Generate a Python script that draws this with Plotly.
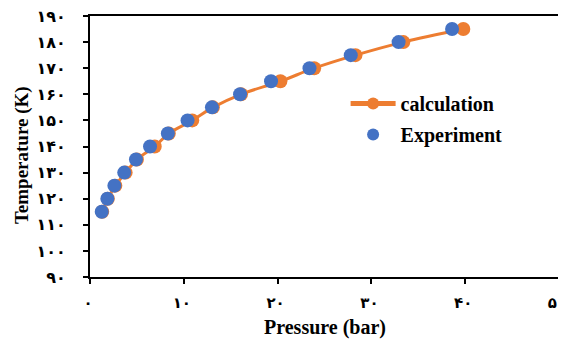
import plotly.graph_objects as go

# Data
exp_pressure = [1.25, 1.85, 2.6, 3.65, 4.9, 6.4, 8.3, 10.4, 13.0, 16.0, 19.3, 23.4, 27.8, 32.9, 38.6]
exp_temp = [115, 120, 125, 130, 135, 140, 145, 150, 155, 160, 165, 170, 175, 180, 185]
calc_pressure = [1.3, 1.9, 2.7, 3.8, 5.0, 6.9, 8.4, 10.9, 13.1, 16.1, 20.3, 23.9, 28.3, 33.4, 39.8]
calc_temp = [115, 120, 125, 130, 135, 140, 145, 150, 155, 160, 165, 170, 175, 180, 185]

fa = "۰۱۲۳۴۵۶۷۸۹"
def fa_num(n):
    return "".join(fa[int(c)] for c in str(n))

x_ticks = [0, 10, 20, 30, 40, 50]
y_ticks = [90, 100, 110, 120, 130, 140, 150, 160, 170, 180, 190]

ORANGE = "#ED7D31"
BLUE = "#4472C4"
FONT = "Liberation Serif, Times New Roman, DejaVu Serif, serif"

fig = go.Figure()
fig.add_trace(go.Scatter(
    x=calc_pressure, y=calc_temp, name="calculation", legendgroup="a",
    mode="lines+markers",
    line=dict(color=ORANGE, width=3, shape="spline"),
    marker=dict(color=ORANGE, size=14),
))
fig.add_trace(go.Scatter(
    x=exp_pressure, y=exp_temp, name="Experiment", legendgroup="b",
    mode="markers",
    marker=dict(color=BLUE, size=14),
))

axis_common = dict(
    showline=True, linecolor="black", linewidth=2, mirror=True,
    ticks="outside", ticklen=5, tickwidth=1.5, tickcolor="black",
    showgrid=False, zeroline=False, automargin=False,
    ticklabeloverflow="allow",
)

fig.update_xaxes(
    range=[0, 50], tickvals=x_ticks, ticktext=[fa_num(v) for v in x_ticks],
    ticklabelstandoff=6, ticklabelshift=-2,
    tickfont=dict(family="DejaVu Sans, sans-serif", size=15, color="black", weight="bold"),
    **axis_common,
)
fig.update_yaxes(
    range=[90, 190], tickvals=y_ticks, ticktext=[fa_num(v) for v in y_ticks],
    ticklabelstandoff=14,
    tickfont=dict(family="DejaVu Sans, sans-serif", size=16, color="black", weight="bold"),
    **axis_common,
)

# Axis titles as paper-positioned annotations
fig.add_annotation(
    text="<b>Pressure (bar)</b>", xref="paper", yref="paper",
    x=0.5, y=-0.195, xanchor="center", yanchor="middle", showarrow=False,
    font=dict(family=FONT, size=20, color="black"),
)
fig.add_annotation(
    text="<b>Temperature (K)</b>", xref="paper", yref="paper",
    x=-0.145, y=0.467, xanchor="center", yanchor="middle", showarrow=False,
    textangle=-90,
    font=dict(family=FONT, size=19, color="black"),
)

# The page body has an 8px margin, so the figure is sized to fit inside it.
fig.update_layout(
    width=558, height=331,
    margin=dict(l=82, r=7, t=8, b=62),
    paper_bgcolor="white", plot_bgcolor="white",
    showlegend=True,
    legend=dict(
        x=0.545, y=0.605, xanchor="left", yanchor="middle",
        font=dict(family=FONT, size=20, color="black", weight="bold"),
        bgcolor="rgba(0,0,0,0)", itemwidth=45, tracegroupgap=2,
        itemsizing="constant",
    ),
    font=dict(family=FONT, color="black"),
)

fig.write_html("out.html")
